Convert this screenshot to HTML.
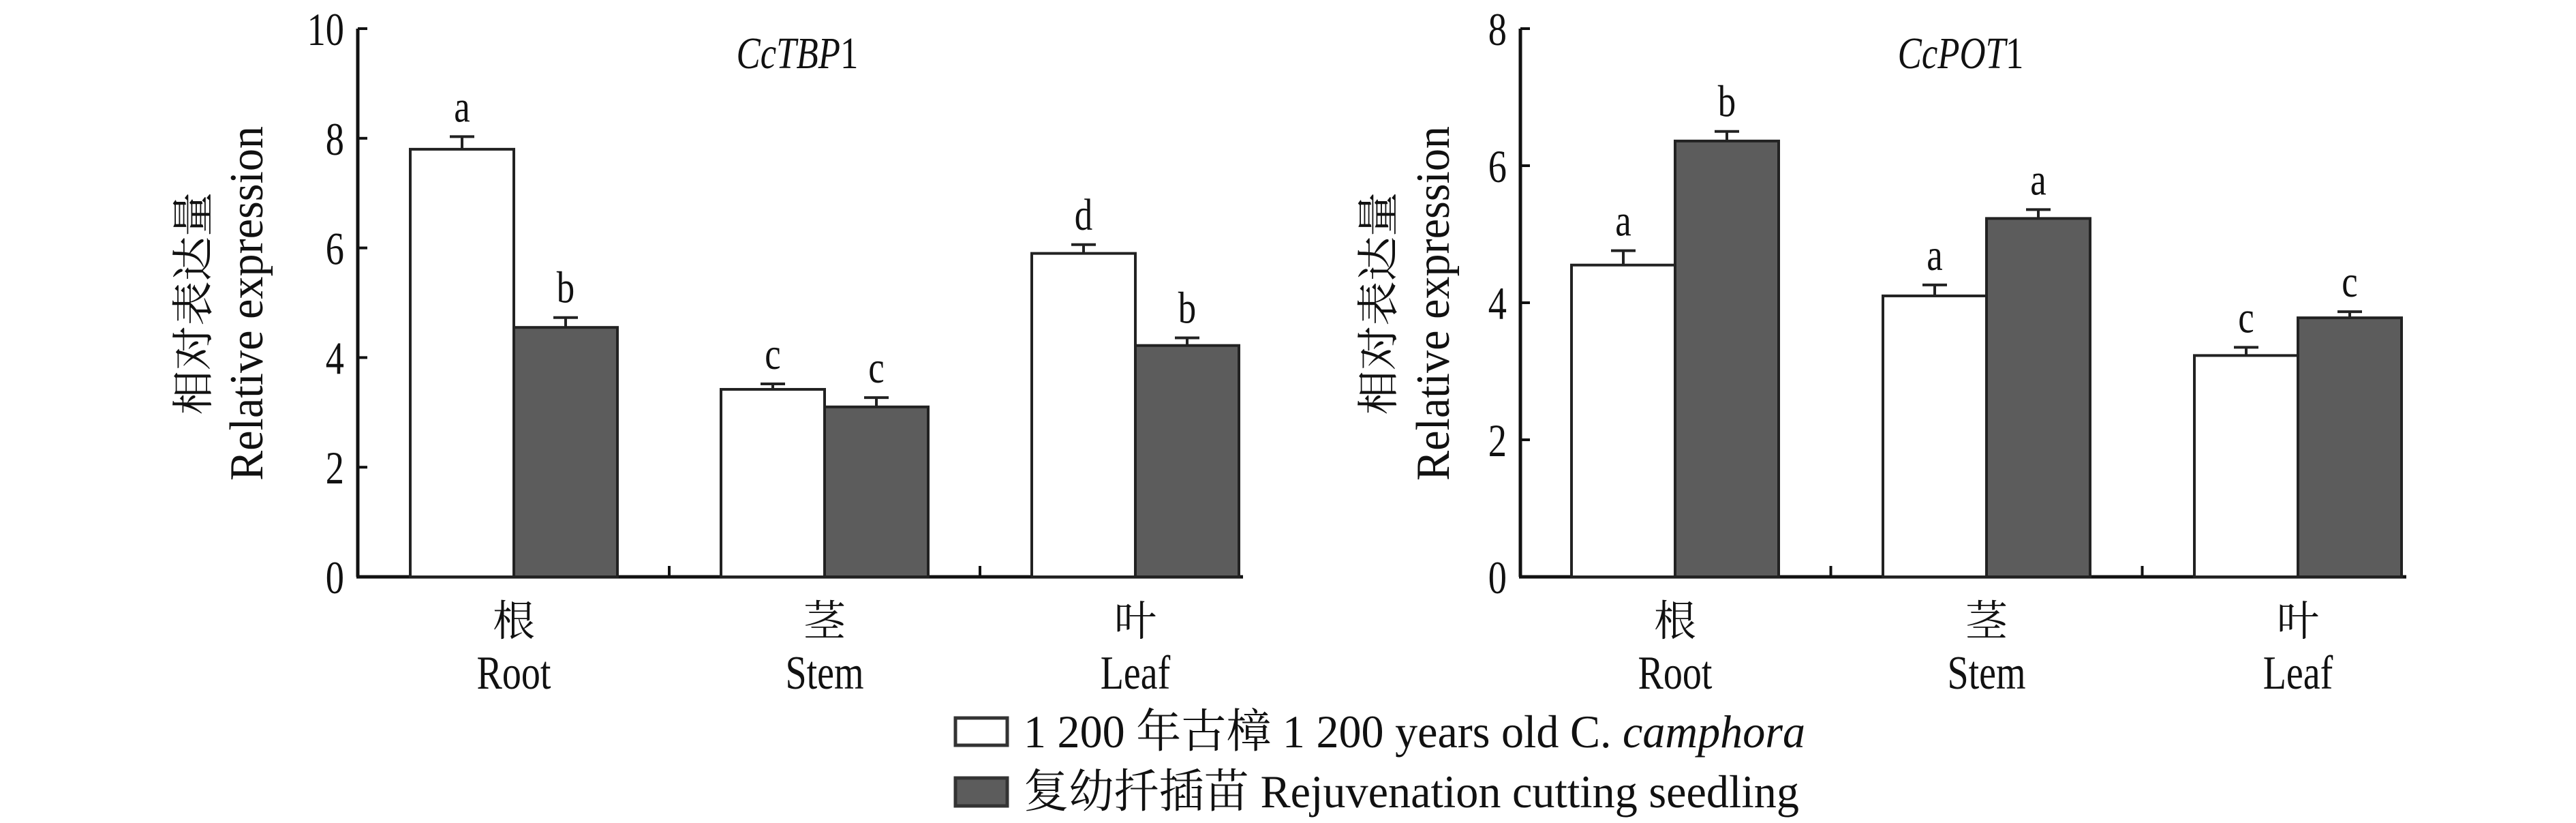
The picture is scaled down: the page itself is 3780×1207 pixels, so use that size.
<!DOCTYPE html>
<html><head><meta charset="utf-8"><style>
html,body{margin:0;padding:0;background:#fff;}
svg{display:block;}
text{font-family:"Liberation Serif","Noto Serif CJK SC",serif;fill:#111;}
</style></head><body>
<svg id="chart" width="3780" height="1207" viewBox="0 0 3780 1207" xmlns="http://www.w3.org/2000/svg"></svg>
<script>
const categories = ["Root","Stem","Leaf"];
const categoriesCn = ["根","茎","叶"];
const tbpOld = [7.8, 3.42, 5.9];
const tbpOldErr = [0.23, 0.1, 0.16];
const tbpYoung = [4.55, 3.1, 4.22];
const tbpYoungErr = [0.18, 0.17, 0.14];
const tbpLetters = ["a","b","c","c","d","b"];
const tbpTicks = [0,2,4,6,8,10];
const potOld = [4.55, 4.1, 3.23];
const potOldErr = [0.21, 0.16, 0.12];
const potYoung = [6.36, 5.23, 3.78];
const potYoungErr = [0.14, 0.13, 0.09];
const potLetters = ["a","b","a","a","c","c"];
const potTicks = [0,2,4,6,8];

const NS="http://www.w3.org/2000/svg";
const svg=document.getElementById('chart');
function mk(tag,attrs,parent,txt){const e=document.createElementNS(NS,tag);for(const k in attrs)e.setAttribute(k,attrs[k]);if(txt!==undefined)e.textContent=txt;(parent||svg).appendChild(e);return e;}
function ctext(parent,x,y,size,anchor,txt){
  return mk('text',{x:x/0.8,y:y,'text-anchor':anchor,'font-size':size,transform:'scale(0.8 1)'},parent,txt);
}

function drawPanel(o){
  const g=mk('g',{});
  
  
  const y0=846, yTop=42, maxV=o.ticks[o.ticks.length-1];
  const y=v=>y0-(v/maxV)*(y0-yTop);
  const cx=i=>o.c0+o.step*i;
  const bw=152;
  const ya=mk('line',{x1:o.ax,y1:yTop,x2:o.ax,y2:y0,stroke:'#111','stroke-width':5},g);
  
  
  const xa=mk('line',{x1:o.ax-2,y1:y0,x2:o.axEnd,y2:y0,stroke:'#111','stroke-width':5},g);
  
  
  o.ticks.forEach(t=>{
    mk('line',{x1:o.ax,y1:y(t),x2:o.ax+14,y2:y(t),stroke:'#111','stroke-width':4},g);
    const tl=ctext(g,o.ax-20,y(t)+24,68,'end',String(t));
    
    
  });
  for(let i=0;i<categories.length-1;i++){
    const tx=cx(i)+o.step/2;
    mk('line',{x1:tx,y1:y0,x2:tx,y2:y0-16,stroke:'#111','stroke-width':4},g);
  }
  categories.forEach((c,i)=>{
    const a=mk('text',{x:cx(i),y:932,'text-anchor':'middle','font-size':62},g,categoriesCn[i]);
    
    
    const b=ctext(g,cx(i),1010,70,'middle',c);
    
    
    const series=[[o.old,o.oldErr,'#fff',cx(i)-bw,0],[o.young,o.youngErr,'#5c5c5c',cx(i),1]];
    series.forEach(s=>{
      const v=s[0][i], e=s[1][i], x0=s[3];
      const r=mk('rect',{x:x0,y:y(v),width:bw,height:y0-y(v),fill:s[2],stroke:'#222','stroke-width':4},g);
      
      
      const ex=x0+bw/2;
      mk('line',{x1:ex,y1:y(v),x2:ex,y2:y(v+e),stroke:'#222','stroke-width':4},g);
      mk('line',{x1:ex-18,y1:y(v+e),x2:ex+18,y2:y(v+e),stroke:'#222','stroke-width':4},g);
      const lt=ctext(g,ex,y(v+e)-22,66,'middle',o.letters[i*2+s[4]]);
      
      
    });
  });
  const ti=mk('text',{x:o.titleX/0.8,y:100,'text-anchor':'middle','font-size':66,transform:'scale(0.8 1)'},g);
  
  
  mk('tspan',{'font-style':'italic'},ti,o.gene);
  mk('tspan',{},ti,'1');
  const l1=mk('text',{x:o.lab1,y:445,'text-anchor':'middle','font-size':62,transform:`rotate(-90 ${o.lab1} 445)`,dy:22,textLength:327,lengthAdjust:'spacingAndGlyphs'},g,'相对表达量');
  
  
  const l2=mk('text',{x:o.lab2,y:445,'text-anchor':'middle','font-size':70,transform:`rotate(-90 ${o.lab2} 445)`,dy:22,textLength:520,lengthAdjust:'spacingAndGlyphs'},g,'Relative expression');
  
  
}
drawPanel({name:'cctbp1-panel',gene:'CcTBP',ax:525,axEnd:1824,c0:754,step:456,ticks:tbpTicks,old:tbpOld,oldErr:tbpOldErr,young:tbpYoung,youngErr:tbpYoungErr,letters:tbpLetters,titleX:1170,lab1:283,lab2:363});
drawPanel({name:'ccpot1-panel',gene:'CcPOT',ax:2231,axEnd:3531,c0:2458,step:457,ticks:potTicks,old:potOld,oldErr:potOldErr,young:potYoung,youngErr:potYoungErr,letters:potLetters,titleX:2877,lab1:2022,lab2:2104});

const lg=mk('g',{});


const b1=mk('rect',{x:1402,y:1053,width:76,height:40,fill:'#fff',stroke:'#333','stroke-width':5},lg);


const t1=mk('text',{x:1502,y:1096,'font-size':68,textLength:1147,lengthAdjust:'spacingAndGlyphs'},lg);


mk('tspan',{},t1,'1 200 年古樟 1 200 years old C. ');
mk('tspan',{'font-style':'italic'},t1,'camphora');
const b2=mk('rect',{x:1402,y:1141,width:76,height:41,fill:'#5c5c5c',stroke:'#333','stroke-width':5},lg);


const t2=mk('text',{x:1502,y:1184,'font-size':68,textLength:1138,lengthAdjust:'spacingAndGlyphs'},lg,'复幼扦插苗 Rejuvenation cutting seedling');


</script>
</body></html>
